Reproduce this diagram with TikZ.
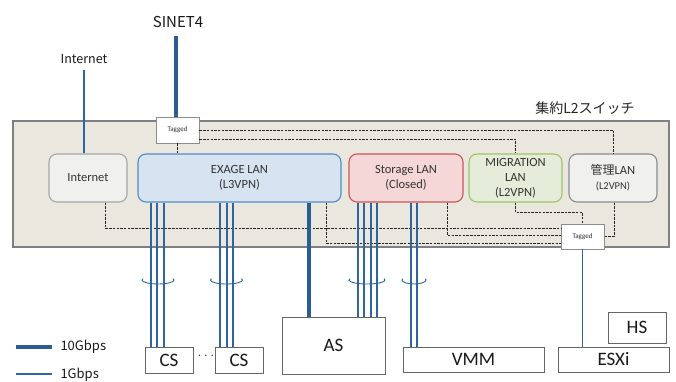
\documentclass[tikz,border=0pt]{standalone}
\usepackage{fontspec}
\setmainfont{Carlito}
\newfontfamily\jp{Noto Sans CJK JP}
\begin{document}
\begin{tikzpicture}[x=1pt,y=-1pt,
  lanbox/.style={draw, rounded corners=8pt, line width=1.1pt, minimum height=48pt, inner sep=0pt, align=center, font=\fontsize{12.5}{15}\selectfont, text=black!80},
  tagbox/.style={draw=black!45, fill=white, line width=0.8pt, inner sep=0pt, font=\fontsize{7}{8}\selectfont, text=black!80},
  hostbox/.style={draw=black!60, fill=white, line width=0.9pt, inner sep=0pt, font=\fontsize{19}{20}\selectfont, text=black!90},
  dsh/.style={dashed, dash pattern=on 2.5pt off 1.2pt, line width=0.8pt, black!85},
  gb1/.style={line width=1.2pt, draw=blue1},
  gb10/.style={line width=4.5pt, draw=blue10},
]
\definecolor{blue1}{HTML}{2E64A0}
\definecolor{blue10}{HTML}{2A5E92}
\useasboundingbox (0,0) rectangle (676,382);
\fill[white] (0,0) rectangle (676,382);

% switch box
\node[draw=black!50, fill={rgb,255:red,234;green,231;blue,223}, line width=1.2pt, minimum width=656pt, minimum height=126pt, inner sep=0pt] (sw) at (341,184) {};
\node[font=\jp\fontsize{14}{16}\selectfont, text=black!85] (swlabel) at (585,108) {集約L2スイッチ};

% top labels
\node[font=\jp\fontsize{15}{16}\selectfont, text=black!90] (sinet) at (178,22) {SINET4};
\node[font=\jp\fontsize{12.5}{14}\selectfont, text=black!90] (inetlbl) at (84,59) {Internet};
\coordinate (inettop) at (84,70);
\coordinate (sinettop) at (176,36);

% LAN boxes
\node[lanbox, draw=black!35, fill={rgb,255:red,240;green,240;blue,238}, minimum width=78pt] (inet) at (88,178) {Internet};
\node[lanbox, draw={rgb,255:red,80;green,140;blue,200}, fill={rgb,255:red,215;green,227;blue,240}, minimum width=203pt] (exage) at (239.5,178) {EXAGE LAN\\(L3VPN)};
\node[lanbox, draw={rgb,255:red,205;green,85;blue,85}, fill={rgb,255:red,244;green,215;blue,214}, minimum width=114pt] (stor) at (406,178) {Storage LAN\\(Closed)};
\node[lanbox, draw={rgb,255:red,160;green,195;blue,100}, fill={rgb,255:red,229;green,236;blue,218}, minimum width=93pt] (mig) at (515.5,178) {MIGRATION\\LAN\\(L2VPN)};
\node[lanbox, draw=black!45, fill={rgb,255:red,240;green,240;blue,238}, minimum width=88pt] (kanri) at (613,178) {{\jp\fontsize{12}{15}\selectfont 管理}LAN\\{\fontsize{10.5}{15}\selectfont (L2VPN)}};

% Tagged boxes
\node[tagbox, minimum width=43pt, minimum height=26pt] (tag1) at (177.5,130) {Tagged};
\node[tagbox, minimum width=43pt, minimum height=25pt] (tag2) at (582.5,236.5) {Tagged};

% dashed internal links
\draw[dsh] (tag1.south) -- (tag1.south |- exage.north);
\draw[dsh] (tag1.east) -| (kanri.north);
\draw[dsh] ([yshift=-9pt]tag1.east) -| (mig.north);
\draw[dsh] ([xshift=17pt]inet.south) |- ([yshift=8.5pt]tag2.west);
\draw[dsh] ([xshift=86.5pt]exage.south) |- ([yshift=-6.5pt]tag2.west);
\draw[dsh] ([xshift=41pt]stor.south) |- ([yshift=1.5pt]tag2.west);
\draw[dsh] (mig.south) -- ++(0,10) -| (tag2.north);
\draw[dsh] ([xshift=1pt]kanri.south) |- (tag2.east);

% uplinks
\draw[gb1] (inettop) -- (inettop |- inet.north);
\draw[gb10, line width=4pt] (sinettop) -- (sinettop |- tag1.north);

% hosts
\node[hostbox, minimum width=48pt, minimum height=26pt] (cs1) at (169,360) {CS};
\node[hostbox, minimum width=48pt, minimum height=26pt] (cs2) at (239,360) {CS};
\node[font=\fontsize{14}{14}\selectfont, text=black!80] (dots) at (206,356) {$\cdots$};
\node[hostbox, minimum width=103pt, minimum height=57pt] (as) at (333.5,345.5) {AS};
\node[hostbox, minimum width=141pt, minimum height=25pt] (vmm) at (473.5,359.5) {VMM};
\node[hostbox, minimum width=111pt, minimum height=25pt] (esxi) at (613.5,359.5) {ESXi};
\node[hostbox, minimum width=58pt, minimum height=31pt] (hs) at (637,327.5) {HS};

% cables EXAGE -> CS
\foreach \dx in {-18,-12,-5}
  \draw[gb1] ([xshift=\dx pt]cs1.north) -- ([xshift=\dx pt]cs1.north |- exage.south);
\foreach \dx in {-19,-12,-6}
  \draw[gb1] ([xshift=\dx pt]cs2.north) -- ([xshift=\dx pt]cs2.north |- exage.south);
% EXAGE -> AS 10G
\draw[gb10] ([xshift=-24.5pt]as.north) -- ([xshift=-24.5pt]as.north |- exage.south);
% Storage -> AS
\foreach \dx in {24.5,30.5,37.5,43.5}
  \draw[gb1] ([xshift=\dx pt]as.north) -- ([xshift=\dx pt]as.north |- stor.south);
% Storage -> VMM
\foreach \dx in {-62.5,-56.5}
  \draw[gb1] ([xshift=\dx pt]vmm.north) -- ([xshift=\dx pt]vmm.north |- stor.south);
% Tagged -> ESXi
\draw[gb1] (tag2.south) -- (tag2.south |- esxi.north);

% bundle marks
\draw[gb1, line width=0.9pt] (158,280) ++(200:16 and 4) arc[start angle=200, end angle=-20, x radius=16, y radius=4];
\draw[gb1, line width=0.9pt] (226.5,280) ++(200:16 and 4) arc[start angle=200, end angle=-20, x radius=16, y radius=4];
\draw[gb1, line width=0.9pt] (367,280) ++(200:18 and 4) arc[start angle=200, end angle=-20, x radius=18, y radius=4];
\draw[gb1, line width=0.9pt] (414,280) ++(200:12 and 4) arc[start angle=200, end angle=-20, x radius=12, y radius=4];

% legend
\coordinate (l10a) at (16,347);
\coordinate (l10b) at (52,347);
\coordinate (l1a) at (16,374);
\coordinate (l1b) at (52,374);
\draw[gb10] (l10a) -- (l10b);
\draw[gb1] (l1a) -- (l1b);
\node[anchor=west, font=\jp\fontsize{13}{14}\selectfont, text=black!90] (lg10) at (57,347) {10Gbps};
\node[anchor=west, font=\jp\fontsize{13}{14}\selectfont, text=black!90] (lg1) at (57,375) {1Gbps};
\end{tikzpicture}
\end{document}
